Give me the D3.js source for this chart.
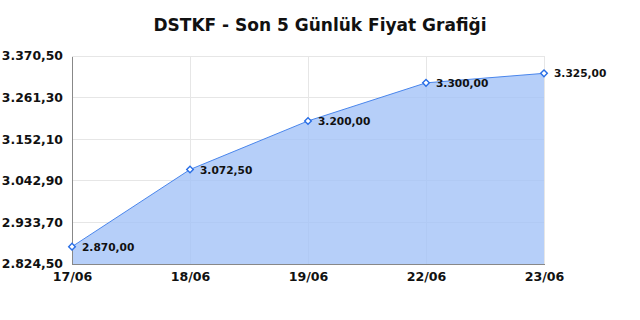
<!DOCTYPE html>
<meta charset="utf-8">
<style>
body { margin: 0; background: #fff; }
svg { font-family: "DejaVu Sans", sans-serif; }
.grid line { stroke: #e6e6e6; shape-rendering: crispEdges; }
.axis path, .axis line { stroke: #888; shape-rendering: crispEdges; }
</style>
<svg width="640" height="320"></svg>
<script src="https://cdn.jsdelivr.net/npm/d3@7"></script>
<script>

var days = ["17/06", "18/06", "19/06", "22/06", "23/06"];
var prices = [2870.00, 3072.50, 3200.00, 3300.00, 3325.00];
var yTicks = [2824.5, 2933.7, 3042.9, 3152.1, 3261.3, 3370.5];

var svg = d3.select("svg");
var margin = {top: 56, right: 96, bottom: 56, left: 72};
var width = 640 - margin.left - margin.right,
    height = 320 - margin.top - margin.bottom;

// 3.370,50 style
var fmt = d3.formatLocale({decimal: ",", thousands: ".", grouping: [3], currency: ["", ""]}).format(",.2f");

var x = d3.scalePoint().domain(days).range([0, width]);
var y = d3.scaleLinear().domain([yTicks[0], yTicks[yTicks.length - 1]]).range([height, 0]);

svg.append("text")
    .attr("x", 320).attr("y", 31)
    .attr("text-anchor", "middle")
    .style("font-size", "17px").style("font-weight", "bold").style("fill", "#111")
    .text("DSTKF - Son 5 Günlük Fiyat Grafiği");

var g = svg.append("g").attr("transform", "translate(" + margin.left + "," + margin.top + ")");

// grid
var grid = g.append("g").attr("class", "grid");
grid.selectAll(".h").data(yTicks).enter().append("line")
    .attr("x1", 0).attr("x2", width)
    .attr("y1", function(d){ return y(d); }).attr("y2", function(d){ return y(d); });
grid.selectAll(".v").data(days).enter().append("line")
    .attr("y1", 0).attr("y2", height)
    .attr("x1", function(d){ return x(d); }).attr("x2", function(d){ return x(d); });

var data = days.map(function(d, i){ return {day: d, v: prices[i]}; });

var area = d3.area()
    .x(function(d){ return x(d.day); })
    .y0(height)
    .y1(function(d){ return y(d.v); });
var line = d3.line()
    .x(function(d){ return x(d.day); })
    .y(function(d){ return y(d.v); });

g.append("path").datum(data).attr("d", area)
    .attr("fill", "#a4c3f7").attr("fill-opacity", 0.8);
g.append("path").datum(data).attr("d", line)
    .attr("fill", "none").attr("stroke", "#4a86ec").attr("stroke-width", 1);

// axes
var yAxis = g.append("g").attr("class", "axis")
    .call(d3.axisLeft(y).tickValues(yTicks).tickSize(0).tickPadding(9).tickFormat(fmt));
yAxis.selectAll("text")
    .style("font-size", "12.4px").style("font-weight", "bold").style("fill", "#111")
    .style("font-family", "DejaVu Sans");

var xAxis = g.append("g").attr("class", "axis")
    .attr("transform", "translate(0," + height + ")")
    .call(d3.axisBottom(x).tickSize(0).tickPadding(4));
xAxis.selectAll("text")
    .attr("dy", "1.05em")
    .style("font-size", "12.6px").style("font-weight", "bold").style("fill", "#111")
    .style("font-family", "DejaVu Sans");

// markers
var sym = d3.symbol().type(d3.symbolSquare).size(22);
g.selectAll(".pt").data(data).enter().append("path")
    .attr("d", sym)
    .attr("transform", function(d){ return "translate(" + x(d.day) + "," + y(d.v) + ") rotate(45)"; })
    .attr("fill", "#fff").attr("stroke", "#2a6fe6").attr("stroke-width", 1.4);

g.selectAll(".val").data(data).enter().append("text")
    .attr("x", function(d){ return x(d.day) + 10; })
    .attr("y", function(d){ return y(d.v) + 4; })
    .style("font-size", "10.6px").style("font-weight", "bold").style("fill", "#111")
    .text(function(d){ return fmt(d.v); });

</script>
